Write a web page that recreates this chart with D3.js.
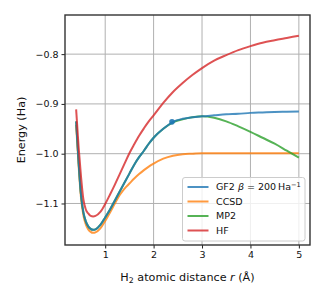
<!DOCTYPE html>
<html>
<head>
<meta charset="utf-8">
<script src="https://cdn.jsdelivr.net/npm/d3@7"></script>
<style>
  body { margin: 0; background: #fff; }
  svg { display: block; font-family: "DejaVu Sans", sans-serif; }
</style>
</head>
<body>
<div id="chart"></div>
<script>
// bond lengths (Angstrom)
var rLeft = [0.40, 0.45, 0.50, 0.55, 0.60, 0.65, 0.70, 0.75, 0.80, 0.90, 1.00, 1.10, 1.20, 1.30, 1.40, 1.50, 1.60, 1.70, 1.80, 1.90, 2.00, 2.20, 2.40];
var rRight = [2.60, 2.80, 3.00, 3.25, 3.50, 3.75, 4.00, 4.25, 4.50, 4.75, 5.00];
var rAll = rLeft.concat(rRight);

// energies (Ha)
var gf2 = [-0.935, -1.015, -1.082, -1.118, -1.136, -1.146, -1.151, -1.153, -1.152, -1.143, -1.128, -1.112, -1.094, -1.076, -1.058, -1.040, -1.022, -1.007, -0.994, -0.980, -0.968, -0.950, -0.936,
           -0.930, -0.927, -0.925, -0.923, -0.921, -0.920, -0.918, -0.917, -0.916, -0.9155, -0.915];
var ccsd = [-0.942, -1.022, -1.088, -1.124, -1.142, -1.152, -1.157, -1.159, -1.158, -1.150, -1.135, -1.118, -1.100, -1.083, -1.070, -1.060, -1.050, -1.041, -1.033, -1.026, -1.020, -1.010, -1.004,
            -1.001, -1.000, -0.999, -0.999, -0.999, -0.999, -0.999, -0.999, -0.999, -0.999, -0.999];
var mp2 = [-0.935, -1.015, -1.082, -1.118, -1.136, -1.146, -1.151, -1.153, -1.152, -1.143, -1.128, -1.112, -1.094, -1.076, -1.058, -1.040, -1.022, -1.007, -0.994, -0.980, -0.968, -0.950, -0.937,
           -0.931, -0.927, -0.925, -0.928, -0.935, -0.945, -0.956, -0.968, -0.980, -0.994, -1.008];
var hf = [-0.911, -0.985, -1.045, -1.092, -1.112, -1.120, -1.125, -1.126, -1.125, -1.117, -1.101, -1.082, -1.062, -1.041, -1.020, -0.999, -0.981, -0.964, -0.949, -0.935, -0.923, -0.898, -0.876,
          -0.858, -0.842, -0.828, -0.813, -0.802, -0.792, -0.784, -0.777, -0.772, -0.7675, -0.763];
var gf2Marker = [2.38, -0.936];

var xTicks = [1, 2, 3, 4, 5];
var yTicks = [-1.1, -1.0, -0.9, -0.8];
var seriesNames = ["GF2", "CCSD", "MP2", "HF"];
var colors = ["#1f77b4", "#ff7f0e", "#2ca02c", "#d62728"];
var drawOrder = [1, 2, 0, 3];

var W = 325, H = 300;
var margin = { top: 15, right: 15, bottom: 55, left: 65 };

var svg = d3.select("#chart").append("svg").attr("width", W).attr("height", H);

var x = d3.scaleLinear().domain([0.17, 5.23]).range([margin.left, W - margin.right]);
var y = d3.scaleLinear().domain([-1.1834, -0.7214]).range([H - margin.bottom, margin.top]);

// grid
var grid = svg.append("g");
grid.selectAll("line.gx").data(xTicks).enter().append("line")
    .attr("x1", function (d) { return x(d); }).attr("x2", function (d) { return x(d); })
    .attr("y1", margin.top).attr("y2", H - margin.bottom)
    .attr("stroke", "#b0b0b0").attr("stroke-width", 1);
grid.selectAll("line.gy").data(yTicks).enter().append("line")
    .attr("y1", function (d) { return y(d); }).attr("y2", function (d) { return y(d); })
    .attr("x1", margin.left).attr("x2", W - margin.right)
    .attr("stroke", "#b0b0b0").attr("stroke-width", 1);

var series = [gf2, ccsd, mp2, hf];
var line = d3.line().curve(d3.curveMonotoneX)
    .x(function (d) { return x(d[0]); })
    .y(function (d) { return y(d[1]); });

var plot = svg.append("g");
drawOrder.forEach(function (i) {
    var pts = series[i].map(function (v, j) { return [rAll[j], v]; });
    plot.append("path").datum(pts)
        .attr("d", line)
        .attr("fill", "none")
        .attr("stroke", colors[i])
        .attr("stroke-opacity", 0.8)
        .attr("stroke-width", 2);
});
plot.append("circle")
    .attr("cx", x(gf2Marker[0])).attr("cy", y(gf2Marker[1]))
    .attr("r", 2.8).attr("fill", colors[0]).attr("fill-opacity", 0.9);

// axes
var xAxis = svg.append("g")
    .attr("transform", "translate(0," + (H - margin.bottom) + ")")
    .call(d3.axisBottom(x).tickValues(xTicks).tickSize(3.5).tickPadding(3).tickFormat(d3.format("d")));
var yAxis = svg.append("g")
    .attr("transform", "translate(" + margin.left + ",0)")
    .call(d3.axisLeft(y).tickValues(yTicks).tickSize(3.5).tickPadding(3)
        .tickFormat(function (d) { return d3.format(".1f")(d).replace("-", "\u2212"); }));
[xAxis, yAxis].forEach(function (a) {
    a.select(".domain").remove();
    a.selectAll(".tick line").attr("stroke", "#222").attr("stroke-width", 1);
    a.selectAll(".tick text").attr("fill", "#111").style("font-size", "9.5px")
        .style("font-family", "DejaVu Sans");
});

// frame
svg.append("rect")
    .attr("x", margin.left).attr("y", margin.top)
    .attr("width", W - margin.left - margin.right)
    .attr("height", H - margin.top - margin.bottom)
    .attr("fill", "none").attr("stroke", "#333").attr("stroke-width", 1.4);

// labels
var xl = svg.append("text")
    .attr("x", (margin.left + W - margin.right) / 2).attr("y", 280.5)
    .attr("text-anchor", "middle").style("font-size", "11.2px").attr("fill", "#111");
xl.append("tspan").text("H");
xl.append("tspan").attr("dy", 2.8).style("font-size", "7.8px").text("2");
xl.append("tspan").attr("dy", -2.8).text(" atomic distance ");
xl.append("tspan").style("font-style", "italic").text("r");
xl.append("tspan").text(" (\u00c5)");

svg.append("text")
    .attr("transform", "translate(25," + ((margin.top + H - margin.bottom) / 2) + ") rotate(-90)")
    .attr("text-anchor", "middle").style("font-size", "11.2px").attr("fill", "#111")
    .text("Energy (Ha)");

// legend
var lg = svg.append("g");
lg.append("rect")
    .attr("x", 182.5).attr("y", 177.5).attr("width", 122.5).attr("height", 63.5)
    .attr("rx", 2.5).attr("fill", "#fff").attr("fill-opacity", 0.8)
    .attr("stroke", "#cccccc").attr("stroke-width", 1);
seriesNames.forEach(function (name, i) {
    var ly = 187 + i * 14.5;
    lg.append("line")
        .attr("x1", 187.5).attr("x2", 208.5).attr("y1", ly).attr("y2", ly)
        .attr("stroke", colors[i]).attr("stroke-opacity", 0.8).attr("stroke-width", 2);
    var t = lg.append("text").attr("x", 216).attr("y", ly + 3.4)
        .style("font-size", "9.5px").attr("fill", "#111");
    if (i === 0) {
        t.append("tspan").text("GF2 ");
        t.append("tspan").style("font-style", "italic").text("\u03b2");
        t.append("tspan").text(" = 200\u2009Ha");
        t.append("tspan").attr("dy", -3.5).style("font-size", "6.6px").text("\u22121");
    } else {
        t.text(name);
    }
});
</script>
</body>
</html>
